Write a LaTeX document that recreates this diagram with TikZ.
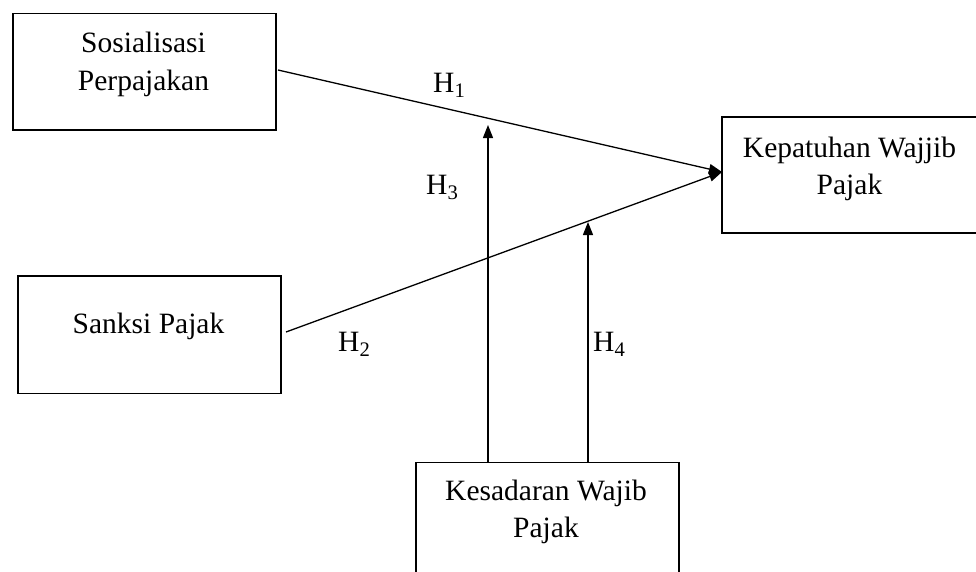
\documentclass[tikz,border=0pt]{standalone}
\usepackage{fontspec}
\setmainfont{Liberation Serif}
\usetikzlibrary{arrows.meta}
\begin{document}
\begin{tikzpicture}[x=1pt,y=-1pt,
  boxnode/.style={draw,line width=1.6pt,rectangle,inner sep=0pt,anchor=north west},
  txt/.style={anchor=base,inner sep=0pt,font=\fontsize{29.5}{36}\selectfont},
  hlbl/.style={anchor=base west,inner sep=0pt,font=\fontsize{29.5}{36}\selectfont},
  conn/.style={line width=1.3pt,-{Triangle[length=13pt,width=10pt]}}]
\useasboundingbox (0,0) rectangle (976,571);
% boxes
\node[boxnode,minimum width=263pt,minimum height=116.5pt] (sos) at (12.3,12.8) {};
\node[boxnode,minimum width=260pt,minimum height=116pt] (kep) at (721,116) {};
\node[boxnode,minimum width=263pt,minimum height=117.5pt] (san) at (17.3,275) {};
\node[boxnode,minimum width=263pt,minimum height=115pt] (kes) at (415,461.7) {};
% texts
\node[txt] (sos1) at (143.5,52) {Sosialisasi};
\node[txt] (sos2) at (143.5,90.5) {Perpajakan};
\node[txt] (kep1) at (849.5,157) {Kepatuhan Wajjib};
\node[txt] (kep2) at (849.5,194.5) {Pajak};
\node[txt] (san1) at (148.5,333) {Sanksi Pajak};
\node[txt] (kes1) at (546,500) {Kesadaran Wajib};
\node[txt] (kes2) at (546,537.5) {Pajak};
% connector points
\coordinate (sosout) at (278,70);
\coordinate (sanout) at (286,332);
\coordinate (kepin) at (722,172);
\coordinate (h3tip) at (488,125);
\coordinate (h4tip) at (588,222);
% connectors
\draw[conn] (sosout) -- (kepin);
\draw[conn] (sanout) -- (kepin);
\draw[conn] (kes.north -| h3tip) -- (h3tip);
\draw[conn] (kes.north -| h4tip) -- (h4tip);
% labels
\node[hlbl] (h1) at (433,92) {H\textsubscript{1}};
\node[hlbl] (h3) at (426,194) {H\textsubscript{3}};
\node[hlbl] (h2) at (338,351) {H\textsubscript{2}};
\node[hlbl] (h4) at (593,351) {H\textsubscript{4}};
\end{tikzpicture}
\end{document}
